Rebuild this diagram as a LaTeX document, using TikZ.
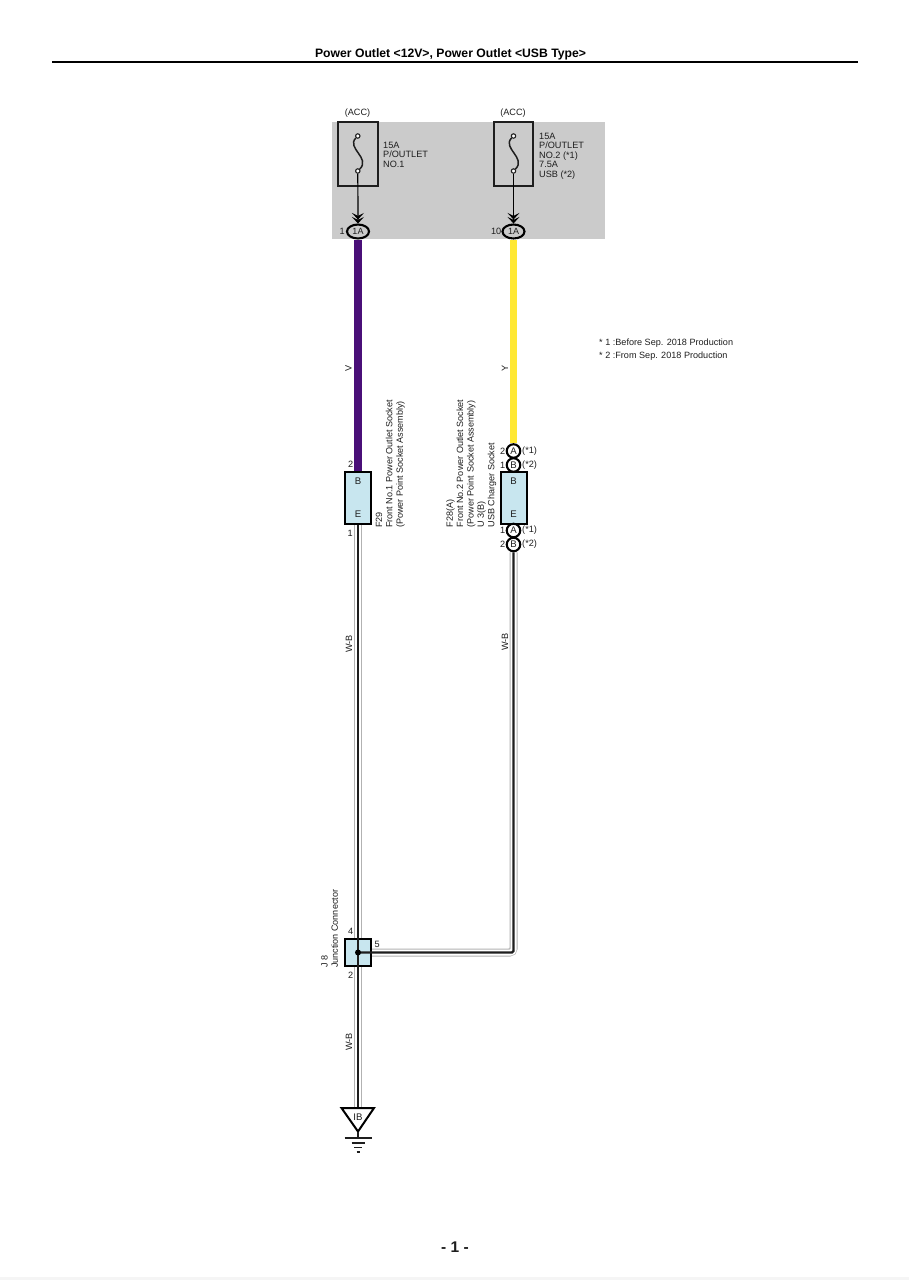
\documentclass[tikz,border=0pt]{standalone}
\usepackage{fontspec}
\setmainfont{Liberation Sans}
\usetikzlibrary{arrows.meta,calc,shapes.geometric}
\definecolor{pink}{HTML}{C8E6EF}
\definecolor{panel}{HTML}{CBCBCB}
\definecolor{violetw}{HTML}{4A0F78}
\definecolor{yelloww}{HTML}{FFE833}
\definecolor{ink}{HTML}{1E1E1E}
\pgfdeclarelayer{paper}
\pgfdeclarelayer{wires}
\pgfsetlayers{paper,wires,main}
\tikzset{
  txt/.style={inner sep=0pt,text=ink,font=\fontsize{9.15}{9.4}\selectfont,align=left},
  vtxt/.style={inner sep=0pt,text=ink,font=\fontsize{9.05}{10.4}\selectfont,align=left,rotate=90,anchor=north west},
  letter/.style={inner sep=0pt,text=ink,font=\fontsize{9.6}{10}\selectfont},
  fusebox/.style={draw=ink,line width=2pt,minimum width=39.5pt,minimum height=64.5pt,inner sep=0pt},
  pill/.style={draw=black,line width=2.1pt,ellipse,minimum width=22pt,minimum height=14pt,inner sep=0pt,font=\fontsize{9}{9}\selectfont,text=ink},
  pin/.style={draw=black,fill=white,line width=2.1pt,circle,minimum size=13.5pt,inner sep=0pt,font=\fontsize{9.6}{10}\selectfont,text=ink},
  conn/.style={draw=black,fill=pink,line width=2pt,inner sep=0pt},
  term/.style={circle,draw=ink,fill=white,line width=1.1pt,minimum size=4.4pt,inner sep=0pt},
  colw/.style={line width=7.2pt},
  wbout/.style={line width=8pt,draw=black!30,rounded corners=4pt},
  wbmid/.style={line width=6pt,draw=white,rounded corners=3pt},
  wbcore/.style={line width=2.2pt,draw=ink,rounded corners=1.5pt},
  feed/.style={line width=1.2pt,draw=black,-{Stealth[length=6.5pt,width=12pt,inset=3pt,sep=-2.5pt]Stealth[length=6.5pt,width=12pt,inset=3pt]}}
}
\begin{document}
\begin{tikzpicture}[x=1pt,y=-1pt]
\useasboundingbox (0,0) rectangle (909,1280);
\begin{pgfonlayer}{paper}
\fill[white] (0,0) rectangle (909,1280);
\fill[black!4] (0,1277) rectangle (909,1280);
\fill[panel] (332,121.5) rectangle (605,238.5);
\end{pgfonlayer}
% header
\node[inner sep=0pt,font=\bfseries\fontsize{12.2}{13}\selectfont,text=black] (title) at (450.5,54) {Power Outlet <12V>, Power Outlet <USB Type>};
\coordinate (hl) at (52,62); \coordinate (hr) at (858,62);
\draw[line width=1.9pt,black] (hl) -- (hr);
\node[inner sep=0pt,font=\bfseries\fontsize{15.5}{16}\selectfont,text=ink] (pageno) at (455,1247.5) {- 1 -};
\node[txt] (acca) at (357.5,113) {(ACC)};
\node[txt] (accb) at (513,113) {(ACC)};
\node[fusebox] (fa) at (357.8,154) {};
\node[fusebox] (fb) at (513.5,154) {};
\node[pill] (pa) at (358,231.5) {1A};
\node[pill] (pb) at (513.5,231.5) {1A};
\node[conn,minimum width=26pt,minimum height=52pt] (ca) at (358,498) {};
\node[conn,minimum width=26pt,minimum height=52pt] (cb) at (513.5,498) {};
\node[pin] (ya) at (513.5,451) {A};
\node[pin] (yb) at (513.5,465) {B};
\node[pin] (za) at (513.5,530.5) {A};
\node[pin] (zb) at (513.5,544.5) {B};
\node[conn,minimum width=26pt,minimum height=26.5pt] (j8) at (358,952.5) {};
\coordinate (jc) at (358,952.5);
\coordinate (jr) at (513.5,952.5);
\coordinate (gtop) at (358,1108);
% coloured wires
\begin{pgfonlayer}{wires}
\draw[colw,draw=violetw] (pa.south) -- (ca.north);
\draw[colw,draw=yelloww] (pb.south) -- (ya.north);
\foreach \s in {wbout,wbmid}{
  \draw[\s] (ca.south) -- (j8.north);
  \draw[\s] (j8.south) -- (gtop);
  \draw[\s] (zb.south) -- (jr) -- (j8.east);
}
\end{pgfonlayer}
\draw[wbcore] (ca.south) -- (jc);
\draw[wbcore] (jc) -- (gtop);
\draw[wbcore] (zb.south) -- (jr) -- (jc);
\fill[black] (jc) circle (3pt);
% fuses
\node[term] (ta) at (357.8,136) {};
\node[term] (tb) at (357.8,171) {};
\node[term] (tc) at (513.5,136) {};
\node[term] (td) at (513.5,171) {};
\draw[line width=1.5pt,ink] (ta) .. controls (346,148) and (371,158) .. (tb);
\draw[line width=1.5pt,ink] (tc) .. controls (501.7,148) and (526.7,158) .. (td);
\draw[feed] (tb) -- (pa.north);
\draw[feed] (td) -- (pb.north);
% labels in connectors
\node[letter] (lb1) at (358,481) {B};
\node[letter] (le1) at (358,514.5) {E};
\node[letter] (lb2) at (513.5,481) {B};
\node[letter] (le2) at (513.5,514.5) {E};
% pin numbers
\node[txt,anchor=east] (n1) at (345,231.5) {1};
\node[txt,anchor=east] (n10) at (501.5,231.5) {10};
\node[txt,anchor=east] (n2a) at (353.5,464.5) {2};
\node[txt,anchor=east] (n1a) at (353,533.5) {1};
\node[txt,anchor=east] (n2b) at (505.5,451) {2};
\node[txt,anchor=east] (n1b) at (505.5,465) {1};
\node[txt,anchor=east] (n1c) at (505.5,530.5) {1};
\node[txt,anchor=east] (n2c) at (505.5,544.5) {2};
\node[txt,anchor=west] (s1) at (522,451) {(*1)};
\node[txt,anchor=west] (s2) at (522,465) {(*2)};
\node[txt,anchor=west] (s3) at (522,530.5) {(*1)};
\node[txt,anchor=west] (s4) at (522,544.5) {(*2)};
\node[txt,anchor=east] (n4) at (353.5,931.5) {4};
\node[txt,anchor=west] (n5) at (374.5,944) {5};
\node[txt,anchor=east] (n2j) at (353.5,975) {2};
% fuse texts
\node[txt,anchor=north west] (fta) at (383,141.8) {15A\\P/OUTLET\\NO.1};
\node[txt,anchor=north west] (ftb) at (539,133) {15A\\P/OUTLET\\NO.2 (*1)\\7.5A\\USB (*2)};
% wire labels
\node[txt,rotate=90] (wv) at (348.5,368) {V};
\node[txt,rotate=90] (wy) at (505,368) {Y};
\node[txt,rotate=90] (wb1) at (349,644) {W-B};
\node[txt,rotate=90] (wb2) at (505,642) {W-B};
\node[txt,rotate=90] (wb3) at (349,1042) {W-B};
% rotated component text
\node[vtxt] (cta) at (375.5,528) {F29\\Front No.1 Power Outlet Socket\\(Power Point Socket Assembly)};
\node[vtxt] (ctb) at (446,527.5) {F28(A)\\Front No.2 Power Outlet Socket\\(Power Point Socket Assembly)\\U 3(B)\\USB Charger Socket};
\node[vtxt] (ctj) at (321,968) {J 8\\Junction Connector};
% notes
\node[txt,font=\fontsize{9.1}{13}\selectfont,anchor=north west] (note) at (599,338.5) {* 1 :Before Sep. 2018 Production\\* 2 :From Sep. 2018 Production};
% ground
\node[letter] (ib) at (358,1117) {IB};
\coordinate (gl) at (341.5,1108); \coordinate (gr) at (374,1108); \coordinate (gb) at (358,1131.5);
\draw[line width=2pt,black,line join=miter] (gl) -- (gr) -- (gb) -- cycle;
\coordinate (g0) at (358,1138);
\draw[line width=1.4pt,ink] (gb) -- (g0);
\draw[line width=1.4pt,ink] ($(g0)+(-13.5,0)$) -- ($(g0)+(13.5,0)$);
\draw[line width=1.3pt,ink] ($(g0)+(-6.5,5)$) -- ($(g0)+(6.5,5)$);
\draw[line width=1.3pt,ink] ($(g0)+(-4,9.5)$) -- ($(g0)+(4,9.5)$);
\draw[line width=1.3pt,ink] ($(g0)+(-1.5,14)$) -- ($(g0)+(1.5,14)$);
\end{tikzpicture}
\end{document}
